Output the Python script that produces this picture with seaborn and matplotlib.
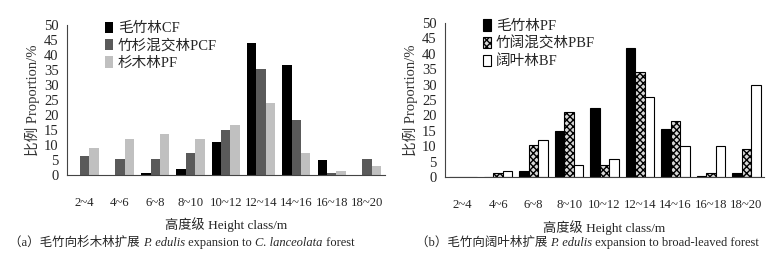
import numpy as np
import pandas as pd
import matplotlib
matplotlib.use("Agg")
import matplotlib.pyplot as plt
import seaborn as sns

classes = ["2~4", "4~6", "6~8", "8~10", "10~12", "12~14", "14~16", "16~18", "18~20"]

# (a) expansion to C. lanceolata forest
names_a = ["毛竹林CF", "竹杉混交林PCF", "杉木林PF"]
cf_a = [0, 0, 0.6, 2.0, 11.0, 44.0, 36.5, 5.0, 0]
pcf_a = [6.3, 5.2, 5.2, 7.3, 15.0, 35.3, 18.2, 0.8, 5.2]
pf_a = [9.0, 12.0, 13.5, 12.0, 16.5, 24.0, 7.5, 1.3, 3.0]

# (b) expansion to broad-leaved forest
names_b = ["毛竹林PF", "竹阔混交林PBF", "阔叶林BF"]
pf_b = [0, 0, 2.0, 14.8, 22.3, 42.0, 15.5, 0.5, 1.3]
pbf_b = [0, 1.2, 10.5, 21.0, 3.8, 34.2, 18.3, 1.2, 9.2]
bf_b = [0, 2.0, 12.0, 4.0, 6.0, 26.0, 10.0, 10.0, 30.0]

cap_a = [("（a）毛竹向杉木林扩展 ", "normal"), ("P. edulis", "italic"),
         (" expansion to ", "normal"), ("C. lanceolata", "italic"), (" forest", "normal")]
cap_b = [("（b）毛竹向阔叶林扩展 ", "normal"), ("P. edulis", "italic"),
         (" expansion to broad-leaved forest", "normal")]

sns.set_style("white")
fonts = ["Liberation Serif", "Noto Sans CJK SC"]
plt.rcParams["font.family"] = fonts
plt.rcParams["hatch.color"] = "#444444"


def long_df(names, series):
    rows = []
    for name, vals in zip(names, series):
        for c, v in zip(classes, vals):
            rows.append({"class": c, "group": name, "value": v})
    return pd.DataFrame(rows)


df_a = long_df(names_a, [cf_a, pcf_a, pf_a])
df_b = long_df(names_b, [pf_b, pbf_b, bf_b])

fig = plt.figure(figsize=(7.84, 2.57), dpi=100)
ax1 = fig.add_axes([0.0855, 0.319, 0.405, 0.584])
ax2 = fig.add_axes([0.5676, 0.311, 0.407, 0.600])

sns.barplot(data=df_a, x="class", y="value", hue="group", order=classes,
            hue_order=names_a, palette=["black", "#5a5a5a", "#c0c0c0"],
            width=0.8, gap=0, linewidth=0, legend=False, ax=ax1)
sns.barplot(data=df_b, x="class", y="value", hue="group", order=classes,
            hue_order=names_b, palette=["black", "#d8d8d8", "white"],
            width=0.8, gap=0, linewidth=0.8, edgecolor="black",
            legend=False, ax=ax2)

for bar in ax2.containers[1]:
    bar.set_hatch("xxxxx")

axis_col = "#444444"
for ax, conts, names in [(ax1, ax1.containers, names_a), (ax2, ax2.containers, names_b)]:
    ax.set_ylim(0, 50)
    ax.set_xlim(-0.5, 8.5)
    ax.set_yticks(range(0, 51, 5))
    for s in ["top", "right"]:
        ax.spines[s].set_visible(False)
    for s in ["left", "bottom"]:
        ax.spines[s].set_color(axis_col)
        ax.spines[s].set_linewidth(0.8)
    ax.set_xticks(np.arange(-0.5, 9, 1), minor=True)
    ax.tick_params(axis="x", which="major", length=0, pad=16, labelsize=9.2)
    ax.tick_params(axis="x", which="minor", direction="in", length=4,
                   color=axis_col, width=0.8)
    ax.tick_params(axis="y", direction="out", length=4, color=axis_col,
                   width=0.8, labelsize=10.5, pad=2)
    ax.set_xlabel("高度级 Height class/m", fontsize=9.5, labelpad=6)
    ax.set_ylabel("比例 Proportion/%", fontsize=10.5, color="#333333", labelpad=3)
    handles = [c.patches[0] for c in conts]
    ax.legend(handles, names, loc="upper left", bbox_to_anchor=(0.1, 1.06),
              frameon=False, fontsize=10.5, handlelength=0.6, handleheight=0.8,
              handletextpad=0.3, labelspacing=0.25, borderaxespad=0)


def caption(x, y, pieces):
    renderer = fig.canvas.get_renderer()
    for txt, style in pieces:
        t = fig.text(x, y, txt, fontsize=9, style=style, family=fonts,
                     ha="left", va="center")
        bb = t.get_window_extent(renderer=renderer)
        x += bb.width / fig.bbox.width


caption(0.012, 0.055, cap_a)
caption(0.530, 0.055, cap_b)

fig.savefig("out.png", dpi=100)
